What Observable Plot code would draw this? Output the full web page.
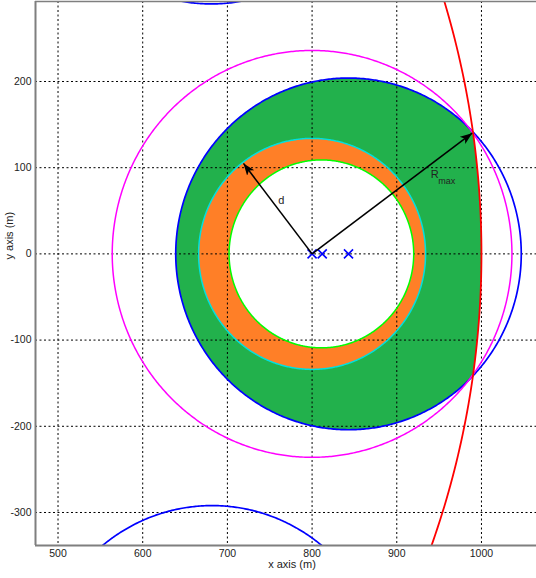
<!DOCTYPE html>
<html><head><meta charset="utf-8">
<script src="https://cdn.jsdelivr.net/npm/d3@7"></script>
<script src="https://cdn.jsdelivr.net/npm/@observablehq/plot@0.6"></script>
<style>body{margin:0;background:#fff;font-family:"Liberation Sans",Arial,sans-serif}</style>
</head><body><div id="chart"></div>
<script>
// ---- data ----
const xTicks = [500, 600, 700, 800, 900, 1000];
const yTicks = [-300, -200, -100, 0, 100, 200];
const xDomain = [473.4, 1065];
const yDomain = [-338.3, 292.8];

// circles: centre x, centre y, radius, colour
const circleNames = ["coverage", "neighbourTop", "neighbourBottom", "rmax", "limit", "ringOuter", "ringInner"];
const circleCX = [843, 681, 682, 800, 0, 800, 811];
const circleCY = [0, 494, -496, 0, 0, 0, 0];
const circleR = [204, 204, 204, 236, 1000, 134, 109];
const circleColor = ["#0000ff", "#0000ff", "#0000ff", "#ff00ff", "#ff0000", "#00e0e0", "#00ff00"];
const circleWidth = [1.7, 1.7, 1.7, 1.5, 1.8, 1.5, 1.5];

// fills
const fillGreen = "#22b14c";
const fillOrange = "#ff7f27";

// markers (x)
const markerX = [800, 812, 843];
const markerY = [0, 0, 0];

// arrows
const arrowX1 = [800, 800], arrowY1 = [0, 0];
const arrowX2 = [719, 989], arrowY2 = [105, 140];

// labels
const labelText = ["d", "R", "max"];
const labelX = [760, 940, 949];
const labelY = [62, 92, 84];
const labelSize = [11, 11, 9];

// ---- build circle outlines ----
function circlePts(i) {
  const pts = [];
  for (let k = 0; k <= 720; k++) {
    const a = (k / 720) * 2 * Math.PI;
    pts.push({x: circleCX[i] + circleR[i] * Math.cos(a), y: circleCY[i] + circleR[i] * Math.sin(a), c: circleNames[i]});
  }
  return pts;
}
const circles = circleNames.map((_, i) => circlePts(i));
// green region: coverage disk clipped by the limit circle
const lim = 4;
const greenPoly = circles[0].map(p => {
  const dx = p.x - circleCX[lim], dy = p.y - circleCY[lim];
  const d = Math.hypot(dx, dy);
  if (d <= circleR[lim]) return p;
  return {x: circleCX[lim] + dx / d * circleR[lim], y: circleCY[lim] + dy / d * circleR[lim]};
});

const markers = markerX.map((x, i) => ({x, y: markerY[i]}));
const arrows = arrowX1.map((x1, i) => ({x1, y1: arrowY1[i], x2: arrowX2[i], y2: arrowY2[i]}));
const labels = labelText.map((t, i) => ({t, x: labelX[i], y: labelY[i], s: labelSize[i]}));

function filledArrow(color, context) {
  const m = d3.create("svg:marker")
    .attr("viewBox", "-12 -6 12 12")
    .attr("markerWidth", 12).attr("markerHeight", 12)
    .attr("markerUnits", "userSpaceOnUse")
    .attr("refX", 0).attr("refY", 0)
    .attr("orient", "auto");
  m.append("path").attr("d", "M-12,-4.5L0,0L-12,4.5L-9,0Z").attr("fill", color).attr("stroke", "none");
  return m.node();
}

function build(markerOpt) {
  const marks = [
    Plot.line(greenPoly, {x: "x", y: "y", fill: fillGreen, stroke: "none", clip: true}),
    Plot.line(circles[5], {x: "x", y: "y", fill: fillOrange, stroke: "none", clip: true}),
    Plot.line(circles[6], {x: "x", y: "y", fill: "#ffffff", stroke: "none", clip: true}),
    Plot.ruleX(xTicks, {stroke: "#000", strokeWidth: 1, strokeDasharray: "2,2.5"}),
    Plot.ruleY(yTicks, {stroke: "#000", strokeWidth: 1, strokeDasharray: "2,2.5"}),
    ...circles.map((c, i) => Plot.line(c, {x: "x", y: "y", stroke: circleColor[i], strokeWidth: circleWidth[i], clip: true})),
    Plot.dot(markers, {x: "x", y: "y", symbol: "times", stroke: "#0000ff", r: 4.2, strokeWidth: 1.6}),
    Plot.link(arrows, {x1: "x1", y1: "y1", x2: "x2", y2: "y2", stroke: "#000", strokeWidth: 1.6, markerEnd: markerOpt}),
    Plot.text(labels, {x: "x", y: "y", text: "t", fontSize: "s", fill: "#222", textAnchor: "start"}),
    Plot.ruleX([xDomain[0]], {stroke: "#7f7f7f", strokeWidth: 2}),
    Plot.ruleY([yDomain[0]], {stroke: "#7f7f7f", strokeWidth: 2}),
    Plot.ruleY([yDomain[1]], {stroke: "#7f7f7f", strokeWidth: 1.5}),
    Plot.axisX(xTicks, {tickSize: 0, tickPadding: 4, fontSize: 10.5, fill: "#222", label: null, tickFormat: d => String(d)}),
    Plot.axisY(yTicks, {tickSize: 0, tickPadding: 4, fontSize: 10.5, fill: "#222", label: null, tickFormat: d => String(d)}),
    Plot.text(["x axis (m)"], {frameAnchor: "bottom", dy: 22, dx: 6, fontSize: 11, fill: "#222"}),
    Plot.text(["y axis (m)"], {frameAnchor: "left", dx: -26, dy: -14, rotate: -90, fontSize: 11, fill: "#222"})
  ];
  return Plot.plot({
    width: 536, height: 578,
    marginLeft: 35, marginRight: 0, marginTop: 1, marginBottom: 33,
    x: {domain: xDomain, ticks: xTicks},
    y: {domain: yDomain, ticks: yTicks},
    style: {fontFamily: "'Liberation Sans', Arial, sans-serif", background: "#fff"},
    marks
  });
}
let chart;
try { chart = build(filledArrow); } catch (e) { chart = build("arrow"); }
document.getElementById("chart").append(chart);
</script>
</body></html>
